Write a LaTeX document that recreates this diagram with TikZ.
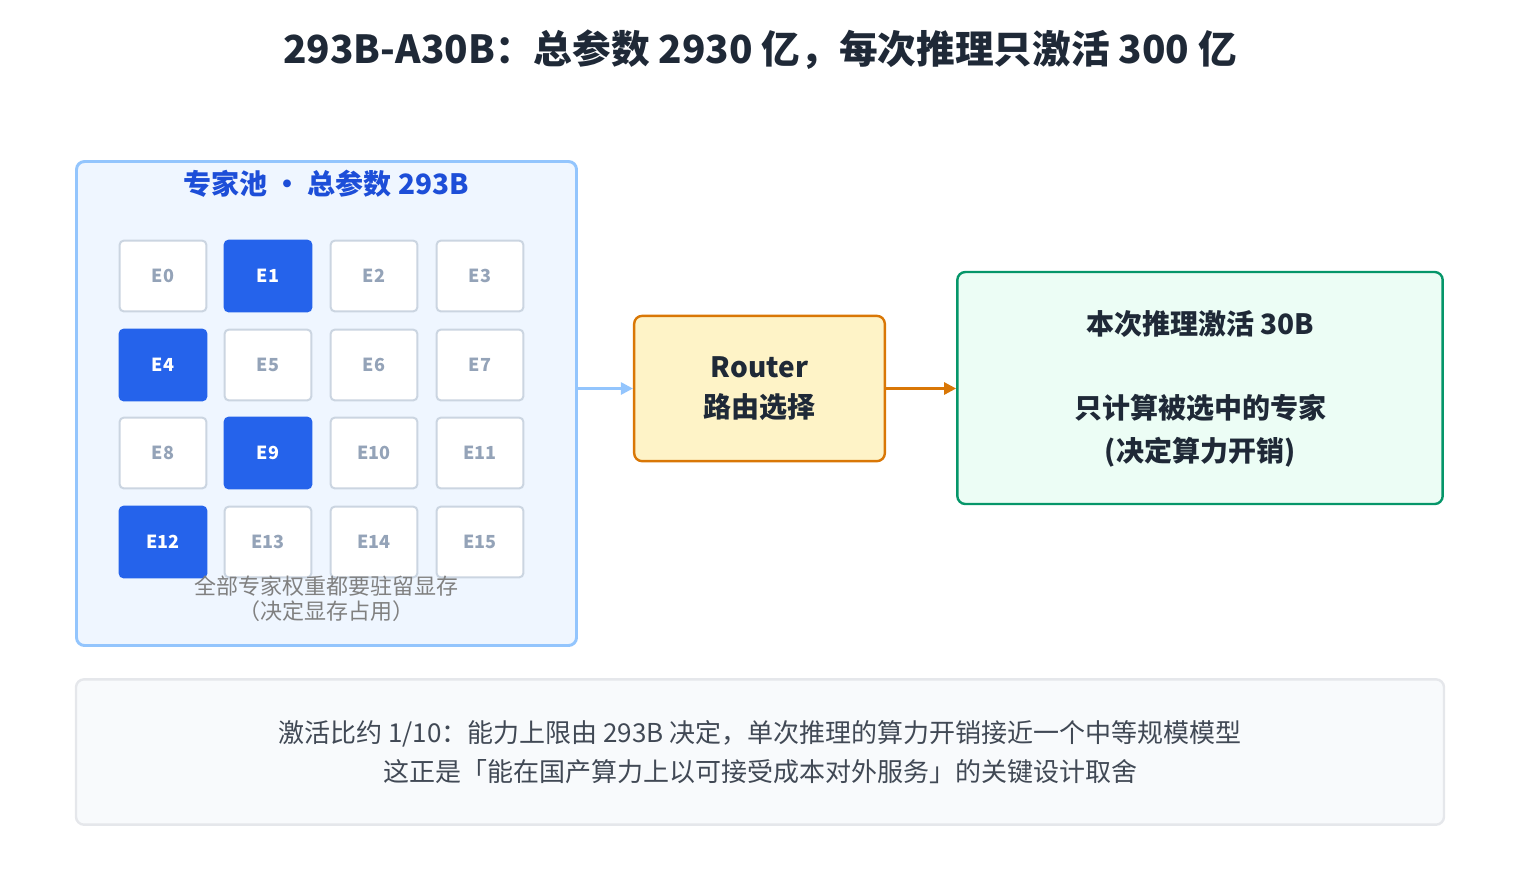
\documentclass[tikz,border=0pt]{standalone}
\usepackage{fontspec}
\setmainfont{Noto Sans CJK SC}
\usetikzlibrary{arrows.meta}
\definecolor{dark}{HTML}{1F2937}
\definecolor{bluef}{HTML}{EFF6FF}
\definecolor{blueb}{HTML}{93C5FD}
\definecolor{blueA}{HTML}{2563EB}
\definecolor{blueT}{HTML}{1D4ED8}
\definecolor{cellb}{HTML}{CBD5E1}
\definecolor{cellt}{HTML}{94A3B8}
\definecolor{yelf}{HTML}{FEF3C7}
\definecolor{orab}{HTML}{D97706}
\definecolor{grf}{HTML}{ECFDF5}
\definecolor{grb}{HTML}{059669}
\definecolor{grayf}{HTML}{F8FAFC}
\definecolor{grayb}{HTML}{E5E7EB}
\begin{document}
\begin{tikzpicture}[x=0.75pt,y=-0.75pt,
  cell/.style={draw=cellb,fill=white,line width=1.5pt,rounded corners=3pt,minimum width=65pt,minimum height=53pt,text=cellt,font=\fontsize{13.5}{13.5}\selectfont\bfseries},
  act/.style={cell,draw=blueA,fill=blueA,text=white},
  big/.style={font=\fontsize{21}{30}\selectfont\bfseries,text=dark,align=center}]
\useasboundingbox (0,0) rectangle (1520,894);
\node[font=\fontsize{29}{29}\selectfont\bfseries,text=dark] (title) at (760,50) {293B-A30B：总参数 2930 亿，每次推理只激活 300 亿};
\node[draw=blueb,fill=bluef,line width=2.2pt,rounded corners=6pt,minimum width=375pt,minimum height=363pt] (pool) at (326.5,403.5) {};
\node[text=blueT,font=\fontsize{21}{21}\selectfont\bfseries] (pt) at (326,184) {专家池 • 总参数 293B};
\foreach \i/\x/\y/\s in {0/163/276/cell,1/268/276/act,2/374/276/cell,3/480/276/cell,
 4/163/365/act,5/268/365/cell,6/374/365/cell,7/480/365/cell,
 8/163/453/cell,9/268/453/act,10/374/453/cell,11/480/453/cell,
 12/163/542/act,13/268/542/cell,14/374/542/cell,15/480/542/cell}
 \node[\s] (e\i) at (\x,\y) {E\i};
\node[text=gray,font=\fontsize{16.5}{18.5}\selectfont,align=center] (cap) at (326,599) {全部专家权重都要驻留显存\\（决定显存占用）};
\node[draw=orab,fill=yelf,line width=1.8pt,rounded corners=6pt,minimum width=188pt,minimum height=109pt,big] (router) at (759.5,388.5) {Router\\路由选择};
\node[draw=grb,fill=grf,line width=1.8pt,rounded corners=6pt,minimum width=364pt,minimum height=174pt] (act) at (1200,388) {};
\node[big] (a1) at (1200,324) {本次推理激活 30B};
\node[big,font=\fontsize{21}{32.5}\selectfont\bfseries] (a2) at (1200,431) {只计算被选中的专家\\(决定算力开销)};
\draw[-{Triangle[length=9pt,width=9pt]},draw=blueb,line width=2pt] (pool.east|-router) -- (router.west);
\draw[-{Triangle[length=9pt,width=9pt]},draw=orab,line width=2pt] (router.east) -- (act.west|-router);
\node[draw=grayb,fill=grayf,line width=1.8pt,rounded corners=6pt,minimum width=1026pt,minimum height=109pt] (note) at (760,752) {};
\node[text=dark!85,font=\fontsize{19.5}{29}\selectfont,align=center] (nt) at (760,752) {激活比约 1/10：能力上限由 293B 决定，单次推理的算力开销接近一个中等规模模型\\这正是「能在国产算力上以可接受成本对外服务」的关键设计取舍};
\end{tikzpicture}
\end{document}
